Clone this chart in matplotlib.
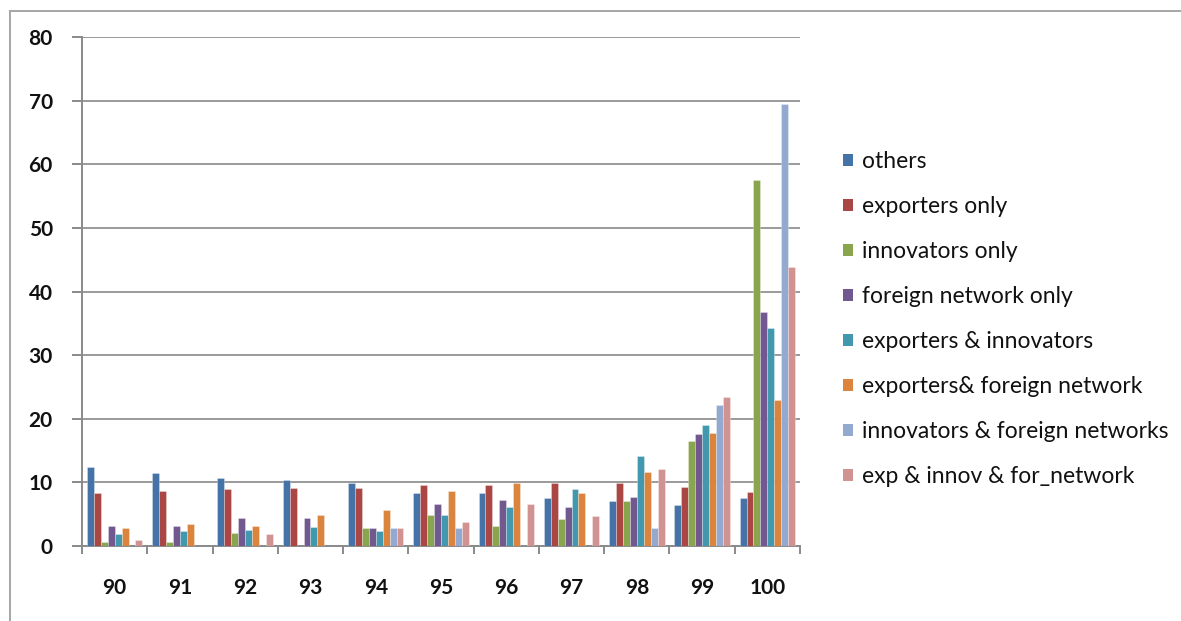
import matplotlib
matplotlib.use("Agg")
import matplotlib.pyplot as plt
from matplotlib.lines import Line2D
from matplotlib.patches import Patch
import numpy as np

categories = ["90", "91", "92", "93", "94", "95", "96", "97", "98", "99", "100"]

series_names = [
    "others",
    "exporters only",
    "innovators only",
    "foreign network only",
    "exporters & innovators",
    "exporters& foreign network",
    "innovators & foreign networks",
    "exp & innov & for_network",
]

others = [12.4, 11.4, 10.7, 10.3, 9.9, 8.4, 8.4, 7.5, 7.0, 6.5, 7.5]
exporters_only = [8.4, 8.6, 8.9, 9.1, 9.1, 9.6, 9.6, 9.9, 9.9, 9.3, 8.5]
innovators_only = [0.7, 0.7, 2.1, 0.0, 2.8, 4.9, 3.2, 4.2, 7.0, 16.5, 57.6]
foreign_network_only = [3.2, 3.2, 4.4, 4.4, 2.8, 6.6, 7.3, 6.1, 7.7, 17.6, 36.8]
exporters_innovators = [1.9, 2.3, 2.5, 3.0, 2.3, 4.9, 6.1, 8.9, 14.2, 19.0, 34.3]
exporters_foreign = [2.8, 3.5, 3.2, 4.9, 5.6, 8.6, 9.9, 8.4, 11.7, 17.8, 22.9]
innovators_foreign = [0.0, 0.0, 0.0, 0.0, 2.8, 2.8, 0.0, 0.0, 2.8, 22.2, 69.4]
exp_innov_for = [0.9, 0.0, 1.9, 0.0, 2.8, 3.7, 6.6, 4.7, 12.1, 23.4, 43.9]

series_values = [
    others, exporters_only, innovators_only, foreign_network_only,
    exporters_innovators, exporters_foreign, innovators_foreign, exp_innov_for,
]

colors = ["#4572A7", "#AA4643", "#89A54E", "#71588F",
          "#4198AF", "#DB843D", "#93A9CF", "#D19392"]

y_ticks = [0, 10, 20, 30, 40, 50, 60, 70, 80]

W, H = 1181, 621
fig = plt.figure(figsize=(W / 100, H / 100), dpi=100)
ax = fig.add_axes([82 / W, 1 - 546 / H, (800 - 82) / W, (546 - 37) / H])

n_series = len(series_values)
x = np.arange(len(categories))
bar_w = 0.85 / n_series
for i, (vals, col, name) in enumerate(zip(series_values, colors, series_names)):
    offs = (i - (n_series - 1) / 2) * bar_w
    ax.bar(x + offs, vals, width=bar_w, color=col, label=name,
           edgecolor=(1, 1, 1, 0.35), linewidth=0.6, zorder=3)

ax.set_xlim(-0.5, len(categories) - 0.5)
ax.set_ylim(0, 80)
ax.set_yticks(y_ticks)
ax.set_yticklabels([str(t) for t in y_ticks])
ax.yaxis.grid(True, color="#9a9a9a", linewidth=1.4, zorder=0)
ax.set_axisbelow(True)

ax.set_xticks(x)
ax.set_xticklabels(categories)
ax.set_xticks(np.arange(len(categories) + 1) - 0.5, minor=True)
ax.tick_params(axis="x", which="major", length=0, pad=23)
ax.tick_params(axis="x", which="minor", length=6, width=1.4, color="#8a8a8a")
ax.tick_params(axis="y", which="major", length=7, width=1.4, color="#8a8a8a", pad=14)

for lab in ax.get_xticklabels() + ax.get_yticklabels():
    lab.set_fontfamily("Lato")
    lab.set_fontweight("bold")
    lab.set_fontsize(15)
    lab.set_color("#111111")

for side in ("top", "right"):
    ax.spines[side].set_visible(False)
for side in ("left", "bottom"):
    ax.spines[side].set_color("#8a8a8a")
    ax.spines[side].set_linewidth(1.4)

handles = [Patch(facecolor=c, edgecolor="none") for c in colors]
leg = fig.legend(handles, series_names, loc="upper left",
                 bbox_to_anchor=(843 / W, 1 - 151 / H), frameon=False,
                 prop={"family": "Lato", "size": 16.5},
                 handlelength=0.45, handleheight=0.45, handletextpad=0.4,
                 labelspacing=1.05, borderaxespad=0, borderpad=0)
for t in leg.get_texts():
    t.set_color("#111111")

# chart frame (top and left edges)
fig.add_artist(Line2D([10 / W, 1.0], [1 - 11 / H, 1 - 11 / H],
                      transform=fig.transFigure, color="#a6a6a6", linewidth=1.4))
fig.add_artist(Line2D([10 / W, 10 / W], [0.0, 1 - 11 / H],
                      transform=fig.transFigure, color="#a6a6a6", linewidth=1.4))

fig.savefig("out.png", dpi=100)
